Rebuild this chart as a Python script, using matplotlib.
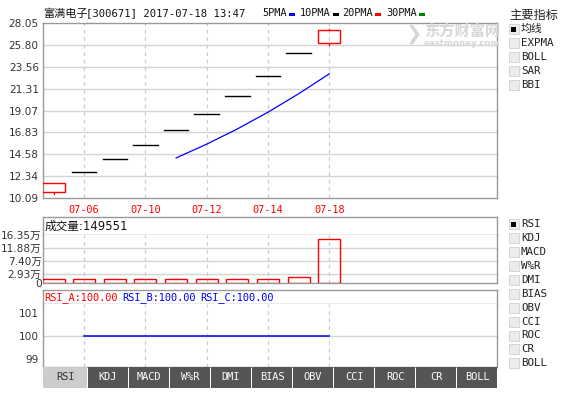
import numpy as np
import matplotlib
matplotlib.use("Agg")
import matplotlib.pyplot as plt
from matplotlib.patches import Rectangle

# ---------------------------------------------------------------------------
# Data
# ---------------------------------------------------------------------------
dates  = ["07-05", "07-06", "07-07", "07-10", "07-11",
          "07-12", "07-13", "07-14", "07-17", "07-18"]
opens  = [10.70, 12.79, 14.07, 15.48, 17.03, 18.73, 20.60, 22.66, 24.93, 25.97]
closes = [11.63, 12.79, 14.07, 15.48, 17.03, 18.73, 20.60, 22.66, 24.93, 27.30]
highs  = [11.63, 12.79, 14.07, 15.48, 17.03, 18.73, 20.60, 22.66, 24.93, 27.45]
lows   = [10.52, 12.79, 14.07, 15.48, 17.03, 18.73, 20.60, 22.66, 24.93, 25.75]
ma5    = [np.nan, np.nan, np.nan, np.nan, 14.20, 15.62, 17.18, 18.90, 20.79, 22.84]
volume = [1.35, 1.30, 1.30, 1.30, 1.30, 1.30, 1.30, 1.35, 2.05, 14.96]   # 万
rsi    = [np.nan, 100, 100, 100, 100, 100, 100, 100, 100, 100]

price_ticks = [10.09, 12.34, 14.58, 16.83, 19.07, 21.31, 23.56, 25.80, 28.05]
vol_ticks   = [0, 2.93, 7.40, 11.88, 16.35]
vol_labels  = ["0", "2.93万", "7.40万", "11.88万", "16.35万"]
rsi_ticks   = [99, 100, 101]
date_ticks  = [1, 3, 5, 7, 9]

title_cn   = "富满电子"
title_rest = "[300671] 2017-07-18 13:47"
ma_names   = ["5PMA", "10PMA", "20PMA", "30PMA"]
ma_colors  = ["#0000ff", "#000000", "#ff0000", "#008000"]
main_items = ["均线", "EXPMA", "BOLL", "SAR", "BBI"]
sub_items  = ["RSI", "KDJ", "MACD", "W%R", "DMI", "BIAS", "OBV",
              "CCI", "ROC", "CR", "BOLL"]
tabs       = ["RSI", "KDJ", "MACD", "W%R", "DMI", "BIAS", "OBV",
              "CCI", "ROC", "CR", "BOLL"]

# ---------------------------------------------------------------------------
W, H = 561, 398
MONO = ["DejaVu Sans Mono", "Noto Sans CJK SC"]
SANS = ["DejaVu Sans", "Noto Sans CJK SC"]
CJK = ["Noto Sans CJK SC"]
EDGE = "#999999"
GRID = "#d4d4d4"
XL = (-0.343, 14.47)
BW = 0.72

fig = plt.figure(figsize=(W / 100, H / 100), dpi=100)


def px_axes(left, top, right, bottom):
    return fig.add_axes([left / W, 1 - bottom / H, (right - left) / W, (bottom - top) / H])


def style(ax):
    for s in ax.spines.values():
        s.set_color(EDGE)
        s.set_linewidth(1.0)
    ax.set_xlim(*XL)


def vgrid(ax):
    for x in date_ticks:
        ax.axvline(x, color="#cccccc", lw=0.9, ls=(0, (3, 3)), zorder=0)


x = np.arange(len(dates))

# --- main candle chart -----------------------------------------------------
ax = px_axes(43, 23, 497, 198)
style(ax)
ax.set_ylim(price_ticks[0], price_ticks[-1])
ax.set_yticks(price_ticks)
ax.set_yticklabels([f"{t:.2f}" for t in price_ticks], family="DejaVu Sans",
                   fontsize=7.6, color="#333333")
ax.set_xticks(date_ticks)
ax.set_xticklabels([dates[i] for i in date_ticks], family=MONO, fontsize=7.4, color="#ff0000")
ax.tick_params(axis="both", length=0)
ax.tick_params(axis="x", pad=5)
ax.tick_params(axis="y", pad=3)
for t in price_ticks[1:-1]:
    ax.axhline(t, color=GRID, lw=1, zorder=0)
vgrid(ax)

for i in range(len(dates)):
    o, c, h, l = opens[i], closes[i], highs[i], lows[i]
    if c > o:
        ax.add_patch(Rectangle((i - BW / 2, o), BW, c - o, fill=False,
                               edgecolor="#ff0000", lw=1.0, zorder=3))
        ax.plot([i, i], [c, h], color="#ff0000", lw=0.9, zorder=3)
        ax.plot([i, i], [l, o], color="#ff0000", lw=0.9, zorder=3)
    else:
        ax.plot([i - BW / 2 - 0.04, i + BW / 2 + 0.04], [c, c], color="#000000", lw=1.0, zorder=3)
ax.plot(x, ma5, color="#0000ff", lw=0.9, zorder=4)

# --- volume panel ----------------------------------------------------------
vh = px_axes(43, 217, 497, 235)
style(vh)
vh.set_xticks([])
vh.set_yticks([])
vh.text(0.003, 0.5, "成交量:149551", transform=vh.transAxes, ha="left", va="center",
        fontsize=8.4, family=SANS, color="#111111")

av = px_axes(43, 235, 497, 283)
style(av)
av.spines["top"].set_visible(False)
av.set_ylim(0, vol_ticks[-1])
av.set_yticks(vol_ticks)
av.set_yticklabels(vol_labels, family=SANS, fontsize=7.6, color="#333333")
av.set_xticks([])
av.tick_params(axis="y", length=0, pad=1)
for t in vol_ticks[1:-1]:
    av.axhline(t, color=GRID, lw=1, zorder=0)
vgrid(av)
for i, v in enumerate(volume):
    av.add_patch(Rectangle((i - BW / 2, 0), BW, v, fill=False,
                           edgecolor="#ff0000", lw=1.0, zorder=3))

# --- RSI panel -------------------------------------------------------------
rh = px_axes(43, 290, 497, 304)
style(rh)
rh.set_xticks([])
rh.set_yticks([])
for xp, txt, col in [(44, "RSI_A:100.00", "#ff0000"), (122, "RSI_B:100.00", "#0000ff"),
                     (200, "RSI_C:100.00", "#0000ff")]:
    rh.text((xp - 43) / 454, 0.45, txt, transform=rh.transAxes, ha="left", va="center",
            fontsize=7.4, family=MONO, color=col)

ar = px_axes(43, 304, 497, 367)
style(ar)
ar.spines["top"].set_visible(False)
ar.set_ylim(98.665, 101.40)
ar.set_yticks(rsi_ticks)
ar.set_yticklabels([str(t) for t in rsi_ticks], family="DejaVu Sans", fontsize=7.6, color="#333333")
ar.set_xticks([])
ar.tick_params(axis="y", length=0, pad=3)
ar.axhline(100, color=GRID, lw=1, zorder=0)
vgrid(ar)
ar.plot(x, rsi, color="#0000ff", lw=1.1, zorder=3)

# --- overlay: title, legend, side lists, tabs -------------------------------
ov = fig.add_axes([0, 0, 1, 1], zorder=10)
ov.set_xlim(0, W)
ov.set_ylim(H, 0)
ov.axis("off")
ov.patch.set_alpha(0)

ov.text(43, 13.5, title_cn, ha="left", va="center", fontsize=8.0, family=CJK, color="#111111")
ov.text(86, 13.5, title_rest, ha="left", va="center", fontsize=7.6, family=MONO, color="#111111")
leg_x = [262, 300, 342, 386]
for lx, name, col in zip(leg_x, ma_names, ma_colors):
    ov.text(lx, 13.5, name, ha="left", va="center", fontsize=7.4, family=MONO, color="#111111")
    nx = lx + 6.2 * len(name) + 2
    ov.add_patch(Rectangle((nx, 12.5), 6, 3, facecolor=col, edgecolor="none"))

# watermark
ov.text(462, 31, "东方财富网", ha="center", va="center", fontsize=11, weight="bold",
        family=CJK, color="#d6d6d6")
ov.text(462, 43.5, "eastmoney.com", ha="center", va="center", fontsize=6.2, weight="bold",
        family="DejaVu Sans", color="#d6d6d6")
ov.text(413, 34, "❯", ha="center", va="center", fontsize=14, weight="bold",
        family="DejaVu Sans", color="#d6d6d6")


def checkbox(y, checked, label):
    ov.add_patch(Rectangle((509, y - 5), 10, 10, facecolor="#ececec", edgecolor="#d6d6d6", lw=0.7))
    if checked:
        ov.add_patch(Rectangle((511.5, y - 2.5), 5, 5, facecolor="#000000", edgecolor="none"))
    ov.text(521, y, label, ha="left", va="center", fontsize=7.8, family=MONO, color="#222222")


ov.text(509, 15, "主要指标", ha="left", va="center", fontsize=8.8, family=CJK, color="#222222")
for k, name in enumerate(main_items):
    checkbox(29.3 + 14 * k, k == 0, name)
for k, name in enumerate(sub_items):
    checkbox(224.3 + 13.9 * k, k == 0, name)

tab_edges = [43, 88, 129, 170, 211, 252, 293, 334, 375, 416, 457, 498]
for k, name in enumerate(tabs):
    x0, x1 = tab_edges[k], tab_edges[k + 1]
    active = k == 0
    ov.add_patch(Rectangle((x0, 367), x1 - x0 - 1, 21,
                           facecolor="#cccccc" if active else "#555555", edgecolor="none"))
    ov.text((x0 + x1 - 1) / 2, 377.5, name, ha="center", va="center", fontsize=7.4,
            family=MONO, color="#333333" if active else "#ffffff")

fig.savefig("out.png", dpi=100)
